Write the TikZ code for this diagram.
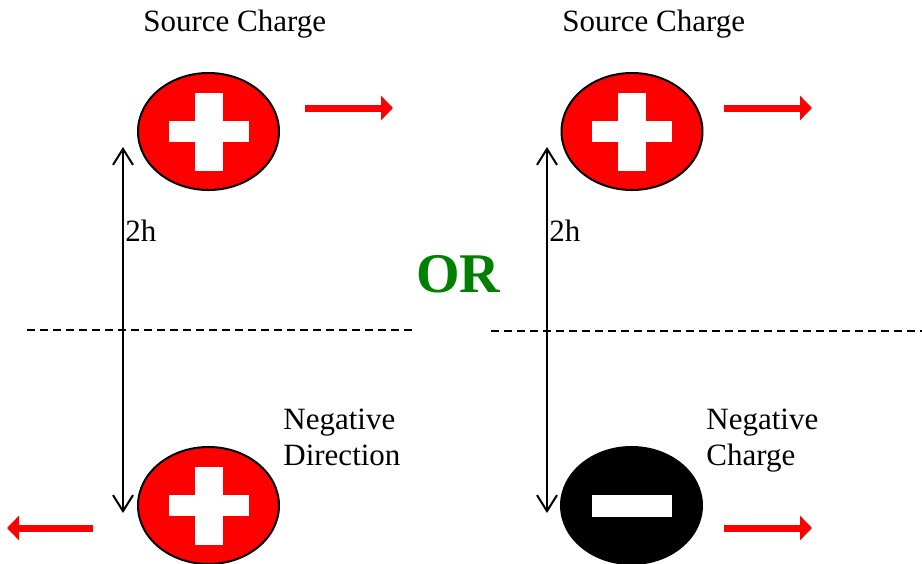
\documentclass[tikz,border=0pt]{standalone}
\usepackage{fontspec}
\setmainfont{Liberation Serif}
\usetikzlibrary{shapes,arrows.meta}
\definecolor{orgreen}{RGB}{0,128,0}
\tikzstyle{poscharge} = [draw, ellipse, fill=red, line width=1pt, minimum width=70.5pt, minimum height=58.5pt, inner sep=0pt]
\tikzstyle{negcharge} = [poscharge, fill=black]
\tikzstyle{line} = [draw, line width=1pt, {Straight Barb[length=8pt,width=10pt]}-{Straight Barb[length=8pt,width=10pt]}]
\tikzstyle{push} = [draw, red, line width=3.5pt, -{Triangle[length=6pt,width=12pt]}]
\tikzstyle{txt} = [inner sep=0pt, font=\fontsize{15.5}{18}\selectfont, align=left]
\tikzstyle{mirror} = [draw, line width=1pt, dash pattern=on 4pt off 2.5pt]

\begin{document}
\begin{tikzpicture}[x=0.5pt, y=-0.5pt]
    \useasboundingbox (0,0) rectangle (922,563);
    % charges
    \node [poscharge] (srcL) at (208.5,131.5) {};
    \node [poscharge] (imgL) at (208.5,505.5) {};
    \node [poscharge] (srcR) at (632,131.5) {};
    \node [negcharge] (imgR) at (631.5,505.5) {};
    \foreach \c in {srcL,imgL,srcR} {
        \fill [white] ([shift={(-40,-10.5)}]\c.center) rectangle ([shift={(40,10.5)}]\c.center);
        \fill [white] ([shift={(-14,-39)}]\c.center) rectangle ([shift={(14,39)}]\c.center);
    }
    \fill [white] ([shift={(-40,-11)}]imgR.center) rectangle ([shift={(40,11)}]imgR.center);
    % labels
    \node [txt, anchor=base west] (srcLtxt) at (143,31) {Source Charge};
    \node [txt, anchor=base west] (srcRtxt) at (562,31) {Source Charge};
    \node [txt, anchor=north west] (dirtxt) at (283,408.5) {Negative\\Direction};
    \node [txt, anchor=north west] (chgtxt) at (706,408.5) {Negative\\Charge};
    \node [txt, anchor=base west] (hL) at (125,241) {2h};
    \node [txt, anchor=base west] (hR) at (549,241) {2h};
    \node [inner sep=0pt, anchor=base, text=orgreen, font=\fontsize{28}{30}\selectfont\bfseries] (or) at (458,292) {OR};
    % mirror lines
    \coordinate (mL1) at (27,330);
    \coordinate (mL2) at (413,330);
    \coordinate (mR1) at (491,331);
    \coordinate (mR2) at (922,331);
    \path [mirror] (mL1) -- (mL2);
    \path [mirror] (mR1) -- (mR2);
    % distance arrows
    \coordinate (topL) at (123,147);
    \coordinate (botL) at (123,513);
    \coordinate (topR) at (547,147);
    \coordinate (botR) at (547,513);
    \path [line] (topL) -- (botL);
    \path [line] (topR) -- (botR);
    % motion arrows
    \coordinate (aL1) at (305,108);
    \coordinate (aL2) at (393,108);
    \coordinate (bL1) at (93,528);
    \coordinate (bL2) at (7,528);
    \coordinate (aR1) at (724,108);
    \coordinate (aR2) at (812,108);
    \coordinate (bR1) at (724,528);
    \coordinate (bR2) at (812,528);
    \path [push] (aL1) -- (aL2);
    \path [push] (bL1) -- (bL2);
    \path [push] (aR1) -- (aR2);
    \path [push] (bR1) -- (bR2);
\end{tikzpicture}
\end{document}
